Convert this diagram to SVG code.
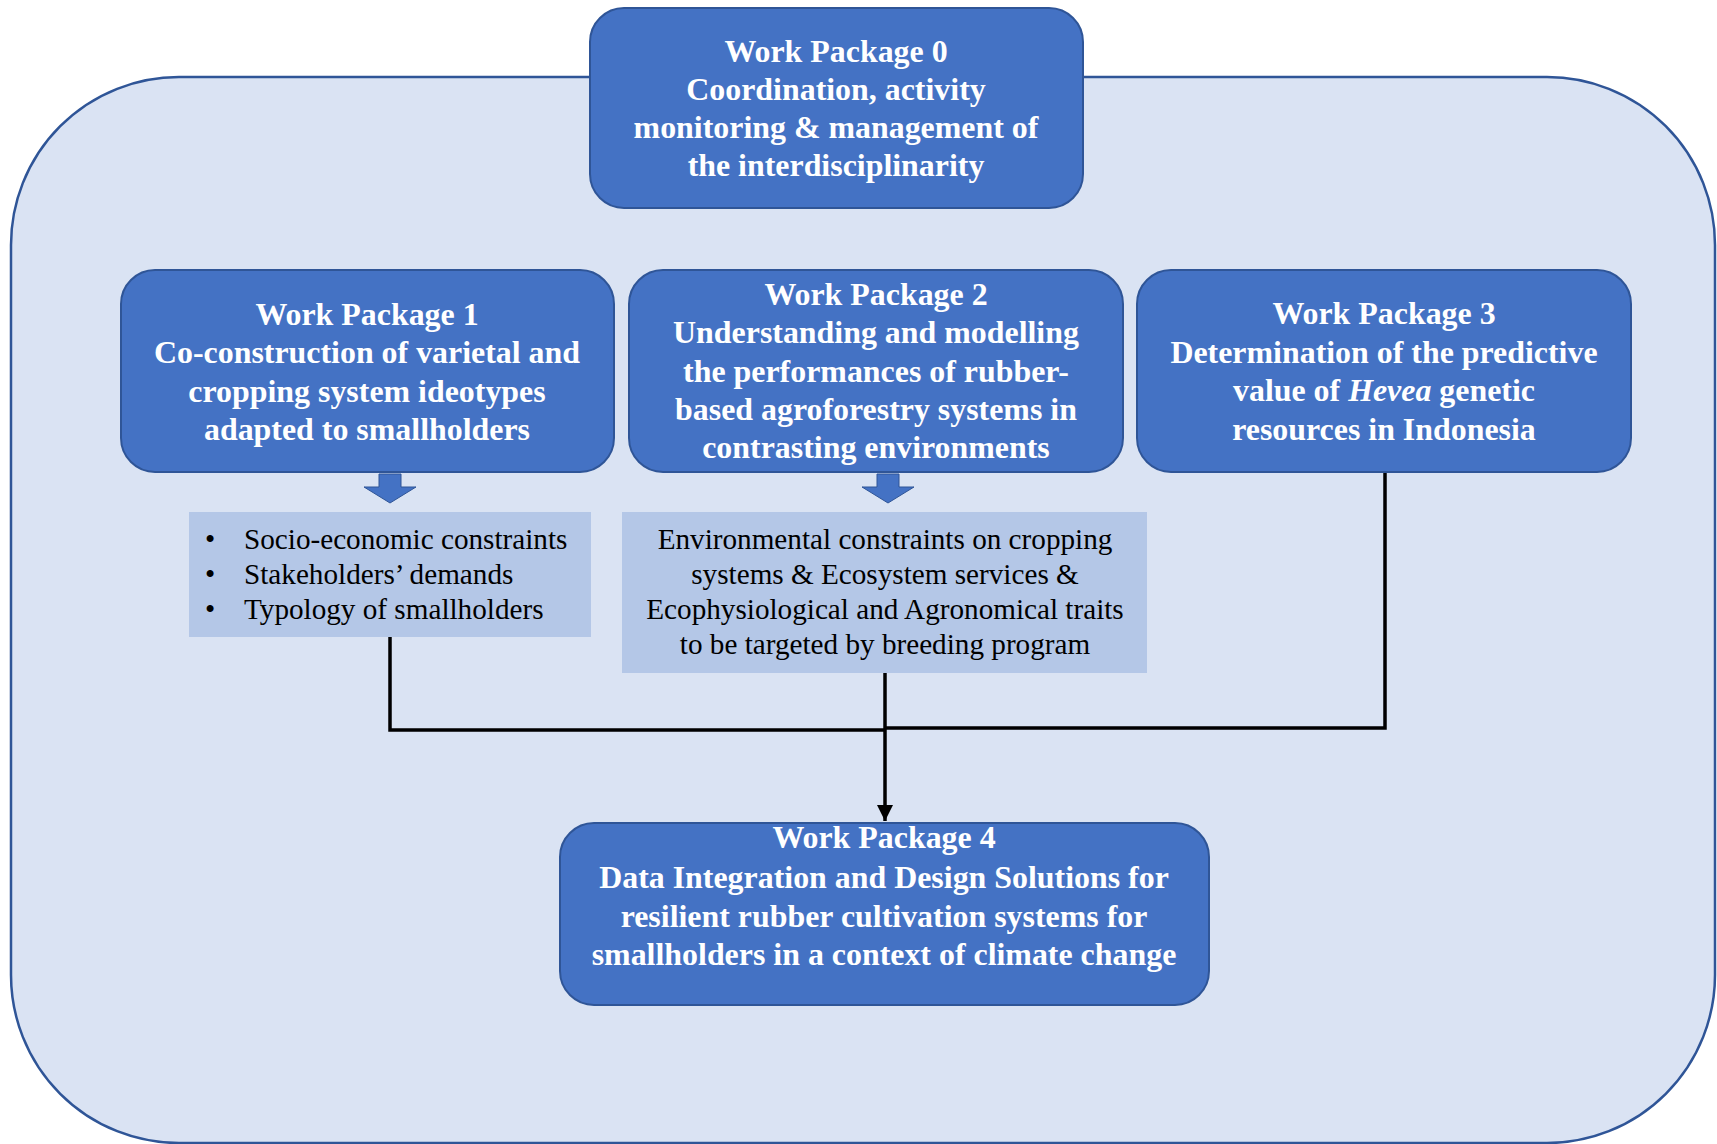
<svg xmlns="http://www.w3.org/2000/svg" width="1717" height="1144" viewBox="0 0 1717 1144">
  <defs>
    <style>
      .frame { fill: #DAE3F3; stroke: #2F5597; stroke-width: 2.5; }
      .wp { fill: #4472C4; stroke: #2F5597; stroke-width: 2; }
      .info { fill: #B4C7E7; stroke: none; }
      .down { fill: #4472C4; stroke: #2F5597; stroke-width: 1; }
      .wpt { font-family: "Liberation Serif", "Times New Roman", serif; font-weight: bold; font-size: 31.9px; fill: #FFFFFF; text-anchor: middle; }
      .it { font-family: "Liberation Serif", "Times New Roman", serif; font-size: 29.2px; fill: #000000; }
      .mid { text-anchor: middle; }
      .link { fill: none; stroke: #000000; stroke-width: 3.5; }
    </style>
    <marker id="tip" viewBox="0 0 10 10" refX="10" refY="5" markerWidth="4.6" markerHeight="4.6" orient="auto" markerUnits="strokeWidth">
      <path d="M0,0 L10,5 L0,10 Z" fill="#000000"/>
    </marker>
  </defs>

  <!-- outer project frame -->
  <rect class="frame" x="11" y="77" width="1704" height="1066" rx="168" ry="168"/>

  <!-- connectors -->
  <g id="connectors">
    <path class="link" d="M390,637 V730 H885"/>
    <path class="link" d="M1385,472 V728 H885"/>
    <path class="link" d="M885,672 V821" marker-end="url(#tip)"/>
  </g>

  <g id="wp0">
    <rect class="wp" x="590" y="8" width="493" height="200" rx="34" ry="34"/>
    <text class="wpt" x="836" y="62">Work Package 0</text>
    <text class="wpt" x="836" y="100">Coordination, activity</text>
    <text class="wpt" x="836" y="138">monitoring &amp; management of</text>
    <text class="wpt" x="836" y="176">the interdisciplinarity</text>
  </g>

  <g id="wp1">
    <rect class="wp" x="121" y="270" width="493" height="202" rx="34" ry="34"/>
    <text class="wpt" x="367" y="325">Work Package 1</text>
    <text class="wpt" x="367" y="363">Co-construction of varietal and</text>
    <text class="wpt" x="367" y="402">cropping system ideotypes</text>
    <text class="wpt" x="367" y="440">adapted to smallholders</text>
  </g>

  <g id="wp2">
    <rect class="wp" x="629" y="270" width="494" height="202" rx="34" ry="34"/>
    <text class="wpt" x="876" y="305">Work Package 2</text>
    <text class="wpt" x="876" y="343">Understanding and modelling</text>
    <text class="wpt" x="876" y="382">the performances of rubber-</text>
    <text class="wpt" x="876" y="420">based agroforestry systems in</text>
    <text class="wpt" x="876" y="458">contrasting environments</text>
  </g>

  <g id="wp3">
    <rect class="wp" x="1137" y="270" width="494" height="202" rx="34" ry="34"/>
    <text class="wpt" x="1384" y="324">Work Package 3</text>
    <text class="wpt" x="1384" y="363">Determination of the predictive</text>
    <text class="wpt" x="1384" y="401">value of <tspan font-style="italic">Hevea</tspan> genetic</text>
    <text class="wpt" x="1384" y="440">resources in Indonesia</text>
  </g>

  <!-- block arrows under WP1 and WP2 -->
  <g id="arrow1">
    <path class="down" d="M379,474 H401 V487 H416 L390,503 L364,487 H379 Z"/>
  </g>
  <g id="arrow2">
    <path class="down" d="M877,474 H899 V487 H914 L888,503 L862,487 H877 Z"/>
  </g>

  <g id="outputs1">
    <rect class="info" x="189" y="512" width="402" height="125"/>
    <text class="it" x="205" y="549">•</text>
    <text class="it" x="244" y="549">Socio-economic constraints</text>
    <text class="it" x="205" y="584">•</text>
    <text class="it" x="244" y="584">Stakeholders’ demands</text>
    <text class="it" x="205" y="619">•</text>
    <text class="it" x="244" y="619">Typology of smallholders</text>
  </g>

  <g id="outputs2">
    <rect class="info" x="622" y="512" width="525" height="161"/>
    <text class="it mid" x="885" y="549">Environmental constraints on cropping</text>
    <text class="it mid" x="885" y="584">systems &amp; Ecosystem services &amp;</text>
    <text class="it mid" x="885" y="619">Ecophysiological and Agronomical traits</text>
    <text class="it mid" x="885" y="654">to be targeted by breeding program</text>
  </g>

  <g id="wp4">
    <rect class="wp" x="560" y="823" width="649" height="182" rx="34" ry="34"/>
    <text class="wpt" x="884" y="848">Work Package 4</text>
    <text class="wpt" x="884" y="888">Data Integration and Design Solutions for</text>
    <text class="wpt" x="884" y="927">resilient rubber cultivation systems for</text>
    <text class="wpt" x="884" y="965">smallholders in a context of climate change</text>
  </g>
</svg>
